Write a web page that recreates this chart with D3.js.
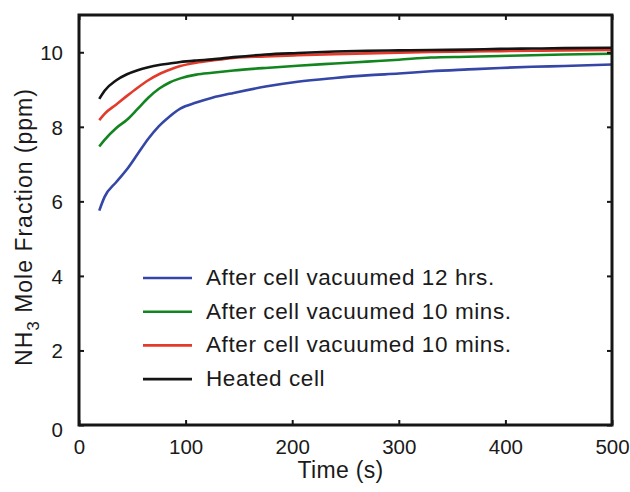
<!DOCTYPE html>
<html>
<head>
<meta charset="utf-8">
<script src="https://cdn.jsdelivr.net/npm/d3@7"></script>
<style>
  body { margin: 0; background: #fff; }
  svg { display: block; font-family: "Liberation Sans", Arial, Helvetica, sans-serif; }
</style>
</head>
<body>
<div id="chart"></div>
<script>
// time points (s)
const times = [19, 24, 35, 45, 55, 65, 75, 85, 95, 110, 125, 145, 175, 205, 240, 270, 300, 330, 365, 395, 425, 455, 500];

// NH3 mole fraction (ppm) for each run
const vac12h = [5.75, 6.12, 6.52, 6.86, 7.27, 7.68, 8.02, 8.28, 8.49, 8.65, 8.78, 8.91, 9.08, 9.21, 9.31, 9.38, 9.43, 9.49, 9.54, 9.58, 9.61, 9.63, 9.67];
const vac10mA = [7.47, 7.65, 7.97, 8.19, 8.48, 8.78, 9.02, 9.19, 9.30, 9.40, 9.45, 9.51, 9.58, 9.64, 9.70, 9.75, 9.80, 9.86, 9.88, 9.90, 9.92, 9.94, 9.96];
const vac10mB = [8.18, 8.35, 8.60, 8.83, 9.05, 9.25, 9.41, 9.53, 9.63, 9.72, 9.78, 9.85, 9.89, 9.92, 9.95, 9.97, 9.99, 10.01, 10.02, 10.03, 10.04, 10.05, 10.06];
const heated = [8.75, 8.97, 9.25, 9.41, 9.52, 9.60, 9.66, 9.70, 9.74, 9.78, 9.81, 9.87, 9.94, 9.98, 10.02, 10.04, 10.05, 10.06, 10.07, 10.09, 10.10, 10.11, 10.12];

const seriesNames = ["After cell vacuumed 12 hrs.", "After cell vacuumed 10 mins.", "After cell vacuumed 10 mins.", "Heated cell"];
const seriesColors = ["#3446a6", "#13851f", "#e23b2b", "#141414"];
const seriesValues = [vac12h, vac10mA, vac10mB, heated];

const xTicks = [0, 100, 200, 300, 400, 500];
const yTicks = [0, 2, 4, 6, 8, 10];

const width = 630, height = 492;
const margin = { top: 15, right: 18, bottom: 67, left: 79 };

const svg = d3.select("#chart").append("svg")
  .attr("width", width)
  .attr("height", height);

const x = d3.scaleLinear().domain([0, 500]).range([margin.left, width - margin.right]);
const y = d3.scaleLinear().domain([0, 11]).range([height - margin.bottom, margin.top]);

const line = d3.line()
  .x(d => x(d[0]))
  .y(d => y(d[1]))
  .curve(d3.curveMonotoneX);

// data lines, drawn bottom to top so black sits on top
seriesValues.forEach((vals, i) => {
  svg.append("path")
    .datum(times.map((t, j) => [t, vals[j]]))
    .attr("fill", "none")
    .attr("stroke", seriesColors[i])
    .attr("stroke-width", 2.6)
    .attr("stroke-linejoin", "round")
    .attr("d", line);
});

// axes with inward ticks on all four sides
const tickLen = 5;
const axisColor = "#161616";

const styleAxis = g => {
  g.select(".domain").remove();
  g.selectAll(".tick line").attr("stroke", axisColor).attr("stroke-width", 2);
  g.selectAll(".tick text").attr("fill", "#1a1a1a").attr("font-size", 20.5);
};

svg.append("g")
  .attr("transform", `translate(0,${y(0)})`)
  .call(d3.axisBottom(x).tickValues(xTicks).tickSizeInner(-tickLen).tickSizeOuter(0).tickPadding(14))
  .call(styleAxis)
  .call(g => g.selectAll(".tick text").attr("dy", "0.71em"));

svg.append("g")
  .attr("transform", `translate(0,${y(11)})`)
  .call(d3.axisTop(x).tickValues(xTicks).tickSizeInner(-tickLen).tickSizeOuter(0).tickFormat(""))
  .call(styleAxis);

svg.append("g")
  .attr("transform", `translate(${x(0)},0)`)
  .call(d3.axisLeft(y).tickValues(yTicks).tickSizeInner(-tickLen).tickSizeOuter(0).tickPadding(16))
  .call(styleAxis)
  .call(g => g.selectAll(".tick text").attr("dy", d => d === 0 ? "0.55em" : "0.35em"));

svg.append("g")
  .attr("transform", `translate(${x(500)},0)`)
  .call(d3.axisRight(y).tickValues(yTicks).tickSizeInner(-tickLen).tickSizeOuter(0).tickFormat(""))
  .call(styleAxis);

// frame
svg.append("rect")
  .attr("x", x(0))
  .attr("y", y(11))
  .attr("width", x(500) - x(0))
  .attr("height", y(0) - y(11))
  .attr("fill", "none")
  .attr("stroke", axisColor)
  .attr("stroke-width", 3);

// axis titles
svg.append("text")
  .attr("x", (x(0) + x(500)) / 2 - 5)
  .attr("y", 478)
  .attr("text-anchor", "middle")
  .attr("font-size", 23)
  .attr("letter-spacing", 0.3)
  .attr("fill", "#1a1a1a")
  .text("Time (s)");

const yTitle = svg.append("text")
  .attr("transform", `translate(32,227) rotate(-90)`)
  .attr("text-anchor", "middle")
  .attr("font-size", 23)
  .attr("letter-spacing", 1)
  .attr("fill", "#1a1a1a");
yTitle.append("tspan").text("NH");
yTitle.append("tspan").attr("font-size", 17).attr("dy", 7).text("3");
yTitle.append("tspan").attr("dy", -7).text(" Mole Fraction (ppm)");

// legend
const legendX = 143, legendY = 278, legendStep = 33.7;
const legend = svg.append("g");
seriesNames.forEach((name, i) => {
  const ly = legendY + i * legendStep;
  legend.append("line")
    .attr("x1", legendX).attr("x2", legendX + 49)
    .attr("y1", ly).attr("y2", ly)
    .attr("stroke", seriesColors[i])
    .attr("stroke-width", 2.6);
  legend.append("text")
    .attr("x", legendX + 63)
    .attr("y", ly + 7)
    .attr("font-size", 22.5)
    .attr("letter-spacing", 0.6)
    .attr("fill", "#1a1a1a")
    .text(name);
});
</script>
</body>
</html>
